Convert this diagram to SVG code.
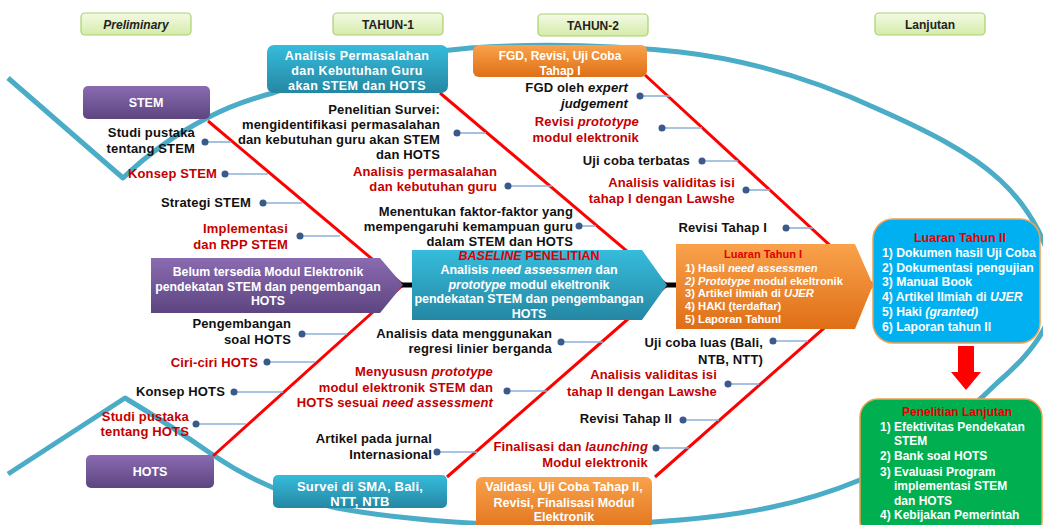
<svg xmlns="http://www.w3.org/2000/svg" width="1043" height="525" viewBox="0 0 1043 525">
<defs>
<linearGradient id="gTeal" x1="0" y1="0" x2="0" y2="1"><stop offset="0" stop-color="#36bcdc"/><stop offset="1" stop-color="#2587a3"/></linearGradient>
<linearGradient id="gOrange" x1="0" y1="0" x2="0" y2="1"><stop offset="0" stop-color="#f9a24c"/><stop offset="1" stop-color="#df6f16"/></linearGradient>
<linearGradient id="gPurple" x1="0" y1="0" x2="0" y2="1"><stop offset="0" stop-color="#8a6bb1"/><stop offset="1" stop-color="#5d4580"/></linearGradient>
<linearGradient id="gHead" x1="0" y1="0" x2="0" y2="1"><stop offset="0" stop-color="#f3fae4"/><stop offset="1" stop-color="#d5eba9"/></linearGradient>
<style>
text{font-family:"Liberation Sans",Arial,sans-serif;font-weight:bold;}
.lb{font-size:13px;letter-spacing:0.15px;text-anchor:end;}
.k{fill:#111;}
.r{fill:#c40000;}
.w{fill:#fff;}
.c{text-anchor:middle;}
.hd{fill:url(#gHead);stroke:#a9d070;stroke-width:1.2;}
.hdt{font-size:12px;fill:#222;text-anchor:middle;}
.dot{fill:#3a5a8c;}
.ld{stroke:#8fb0d8;stroke-width:1.6;fill:none;}
.bone{stroke:#ff0000;stroke-width:3;fill:none;}
.spine{stroke:#000;stroke-width:5;}
.fish{stroke:#4aacc6;stroke-width:5;fill:none;stroke-linejoin:round;}
.tt{fill:#e00000;}
</style>
</defs>
<rect width="1043" height="525" fill="#fff"/>

<g id="headers">
<rect class="hd" x="81" y="13" width="110" height="22" rx="4"/><text class="hdt" x="136" y="28.5" font-style="italic">Preliminary</text>
<rect class="hd" x="333" y="13" width="110" height="22" rx="4"/><text class="hdt" x="388" y="28.5">TAHUN-1</text>
<rect class="hd" x="538" y="14" width="110" height="22" rx="4"/><text class="hdt" x="593" y="29.5">TAHUN-2</text>
<rect class="hd" x="875" y="13" width="110" height="22" rx="4"/><text class="hdt" x="930" y="28.5">Lanjutan</text>
</g>

<g id="connectors">
<path class="fish" d="M8,78 L123,178 C150,152 180,132 207,118 C228,107 250,99 273,93 C330,72 400,54 470,48 C540,43 610,45 680,52 C750,60 820,82 880,110 C925,130 970,152 1000,180 C1030,208 1054,250 1054,290 C1054,325 1030,355 997,383 C960,420 910,455 860,480 C800,505 740,515 680,520 C610,526 540,527 470,523 C420,520 375,515 337,508 C290,498 250,480 213,455 C180,432 150,413 125,398 L8,474"/>
<line class="bone" x1="208" y1="121" x2="403" y2="285"/>
<line class="bone" x1="403" y1="285" x2="213" y2="456"/>
<line class="bone" x1="440" y1="93" x2="667" y2="285"/>
<line class="bone" x1="667" y1="285" x2="447" y2="477"/>
<line class="bone" x1="645" y1="75" x2="873" y2="285"/>
<line class="bone" x1="873" y1="285" x2="655" y2="477"/>
<line class="spine" x1="400" y1="285" x2="414" y2="285"/>
<line class="spine" x1="664" y1="285" x2="678" y2="285"/>
</g>

<g id="stem"><rect x="83" y="86" width="127" height="33" rx="5" fill="url(#gPurple)"/><text class="w c" x="146" y="107" font-size="12.5">STEM</text></g>
<g id="hots"><rect x="86" y="455" width="128" height="33" rx="5" fill="url(#gPurple)"/><text class="w c" x="150" y="476" font-size="12.5">HOTS</text></g>

<g id="analisis-box"><rect x="267" y="45" width="181" height="48" rx="7" fill="url(#gTeal)"/>
<text class="w c" font-size="12.5" letter-spacing="0.4" x="357" y="59.5">Analisis Permasalahan</text>
<text class="w c" font-size="12.5" letter-spacing="0.4" x="357" y="74.5">dan Kebutuhan Guru</text>
<text class="w c" font-size="12.5" letter-spacing="0.4" x="357" y="90">akan STEM  dan HOTS</text></g>

<g id="fgd-box"><rect x="473" y="45" width="174" height="32" rx="6" fill="url(#gOrange)"/>
<text class="w c" font-size="12" x="560" y="60">FGD, Revisi, Uji Coba</text>
<text class="w c" font-size="12" x="560" y="75">Tahap I</text></g>

<g id="survei-box"><rect x="273" y="475" width="174" height="33" rx="5" fill="url(#gTeal)"/>
<text class="w c" font-size="13" letter-spacing="0.2" x="360" y="491">Survei di SMA, Bali,</text>
<text class="w c" font-size="13" letter-spacing="0.2" x="360" y="506">NTT, NTB</text></g>

<g id="validasi-box"><rect x="476" y="477" width="176" height="60" rx="6" fill="url(#gOrange)"/>
<text class="w c" font-size="12.5" x="564" y="491">Validasi, Uji Coba Tahap II,</text>
<text class="w c" font-size="12.5" x="564" y="507">Revisi, Finalisasi Modul</text>
<text class="w c" font-size="12.5" x="564" y="521">Elektronik</text></g>

<g id="problem"><polygon points="151,258 380,258 403,285 380,313 151,313" fill="url(#gPurple)"/>
<text class="w c" font-size="12.3" x="268" y="276">Belum tersedia Modul Elektronik</text>
<text class="w c" font-size="12.3" x="268" y="291">pendekatan STEM dan pengembangan</text>
<text class="w c" font-size="12.3" x="268" y="305">HOTS</text></g>

<g id="baseline"><polygon points="412,250 642,250 667,285 642,320 412,320" fill="url(#gTeal)"/>
<text class="c" font-size="12.5" x="529" y="260" fill="#e00000"><tspan font-style="italic">BASELINE</tspan> PENELITIAN</text>
<text class="w c" font-size="12.5" x="529" y="274">Analisis <tspan font-style="italic">need assessmen</tspan> dan</text>
<text class="w c" font-size="12.5" x="529" y="289"><tspan font-style="italic">prototype</tspan> modul ekeltronik</text>
<text class="w c" font-size="12.5" x="529" y="303">pendekatan STEM dan pengembangan</text>
<text class="w c" font-size="12.5" x="529" y="318">HOTS</text></g>

<g id="luaran1"><polygon points="676,244 855,244 873,285 855,329 676,329" fill="url(#gOrange)"/>
<text class="tt c" font-size="11" x="763" y="258">Luaran Tahun I</text>
<text class="w" font-size="11.2" x="685" y="272">1) Hasil <tspan font-style="italic">need assessmen</tspan></text>
<text class="w" font-size="11.2" x="685" y="285"><tspan font-style="italic">2) Prototype</tspan> modul ekeltronik</text>
<text class="w" font-size="11.2" x="685" y="297">3) Artikel ilmiah di <tspan font-style="italic">UJER</tspan></text>
<text class="w" font-size="11.2" x="685" y="310">4) HAKI (terdaftar)</text>
<text class="w" font-size="11.2" x="685" y="323">5) Laporan TahunI</text></g>

<g id="luaran2"><rect x="873" y="219" width="167" height="124" rx="20" fill="#00b0f0" stroke="#f0a050" stroke-width="1.5"/>
<text class="tt c" font-size="12.5" x="960" y="242">Luaran Tahun II</text>
<text class="w" font-size="12.2" x="882" y="257">1) Dokumen hasil Uji Coba</text>
<text class="w" font-size="12.2" x="882" y="272">2) Dokumentasi pengujian</text>
<text class="w" font-size="12.2" x="882" y="286">3) Manual Book</text>
<text class="w" font-size="12.2" x="882" y="301">4) Artikel Ilmiah di <tspan font-style="italic">UJER</tspan></text>
<text class="w" font-size="12.2" x="882" y="316">5) Haki <tspan font-style="italic">(granted)</tspan></text>
<text class="w" font-size="12.2" x="882" y="331">6) Laporan tahun II</text></g>

<g id="arrow-down"><path d="M958,346 L974,346 L974,372 L981,372 L966,390 L951,372 L958,372 Z" fill="#ff0000"/></g>

<g id="lanjutan"><rect x="860" y="399" width="182" height="140" rx="18" fill="#00b050" stroke="#f0a050" stroke-width="1.5"/>
<text class="tt c" font-size="12" x="957" y="416">Penelitian Lanjutan</text>
<text class="w" font-size="12" x="880" y="431">1) Efektivitas Pendekatan</text>
<text class="w" font-size="12" x="894" y="445">STEM</text>
<text class="w" font-size="12" x="880" y="460">2) Bank soal HOTS</text>
<text class="w" font-size="12" x="880" y="476">3) Evaluasi Program</text>
<text class="w" font-size="12" x="894" y="490">implementasi STEM</text>
<text class="w" font-size="12" x="894" y="505">dan HOTS</text>
<text class="w" font-size="12" x="880" y="519">4) Kebijakan Pemerintah</text></g>

<g id="b1"><line class="ld" x1="205" y1="142" x2="231" y2="142"/><circle class="dot" cx="205" cy="142" r="3.5"/><text class="lb k" x="195" y="137">Studi pustaka</text><text class="lb k" x="195" y="153">tentang STEM</text></g>
<g id="b2"><line class="ld" x1="225" y1="174" x2="268" y2="174"/><circle class="dot" cx="225" cy="174" r="3.5"/><text class="lb r" x="217" y="178">Konsep STEM</text></g>
<g id="b3"><line class="ld" x1="263" y1="203" x2="302" y2="203"/><circle class="dot" cx="263" cy="203" r="3.5"/><text class="lb k" x="251" y="207">Strategi STEM</text></g>
<g id="b4"><line class="ld" x1="300" y1="236" x2="340" y2="236"/><circle class="dot" cx="300" cy="236" r="3.5"/><text class="lb r" x="288" y="233">Implementasi</text><text class="lb r" x="288" y="249">dan RPP STEM</text></g>
<g id="b5"><line class="ld" x1="302" y1="334" x2="347" y2="334"/><circle class="dot" cx="302" cy="334" r="3.5"/><text class="lb k" x="291" y="328">Pengembangan</text><text class="lb k" x="291" y="344">soal HOTS</text></g>
<g id="b6"><line class="ld" x1="267" y1="362" x2="315" y2="362"/><circle class="dot" cx="267" cy="362" r="3.5"/><text class="lb r" x="258" y="367">Ciri-ciri HOTS</text></g>
<g id="b7"><line class="ld" x1="234" y1="392" x2="283" y2="392"/><circle class="dot" cx="234" cy="392" r="3.5"/><text class="lb k" x="225" y="396">Konsep HOTS</text></g>
<g id="b8"><line class="ld" x1="196" y1="424" x2="246" y2="424"/><circle class="dot" cx="196" cy="424" r="3.5"/><text class="lb r" x="189" y="421">Studi pustaka</text><text class="lb r" x="189" y="436">tentang HOTS</text></g>
<g id="b9"><line class="ld" x1="457" y1="133" x2="486" y2="133"/><circle class="dot" cx="457" cy="133" r="3.5"/><text class="lb k" x="440" y="114">Penelitian Survei:</text><text class="lb k" x="440" y="129">mengidentifikasi permasalahan</text><text class="lb k" x="440" y="144">dan kebutuhan guru akan STEM</text><text class="lb k" x="440" y="159">dan HOTS</text></g>
<g id="b10"><line class="ld" x1="508" y1="186" x2="552" y2="186"/><circle class="dot" cx="508" cy="186" r="3.5"/><text class="lb r" x="497" y="176">Analisis permasalahan</text><text class="lb r" x="497" y="191">dan kebutuhan guru</text></g>
<g id="b11"><line class="ld" x1="579" y1="226" x2="596" y2="226"/><circle class="dot" cx="579" cy="226" r="3.5"/><text class="lb k" x="573" y="216">Menentukan faktor-faktor yang</text><text class="lb k" x="573" y="231">mempengaruhi kemampuan guru</text><text class="lb k" x="573" y="246">dalam STEM dan HOTS</text></g>
<g id="b12"><line class="ld" x1="561" y1="342" x2="603" y2="342"/><circle class="dot" cx="561" cy="342" r="3.5"/><text class="lb k" x="552" y="338">Analisis data menggunakan</text><text class="lb k" x="552" y="353">regresi linier berganda</text></g>
<g id="b13"><line class="ld" x1="507" y1="391" x2="547" y2="391"/><circle class="dot" cx="507" cy="391" r="3.5"/><text class="lb r" x="493" y="376">Menyususn <tspan font-style="italic">prototype</tspan></text><text class="lb r" x="493" y="392">modul elektronik STEM dan</text><text class="lb r" x="493" y="407">HOTS sesuai <tspan font-style="italic">need assessment</tspan></text></g>
<g id="b14"><line class="ld" x1="437" y1="452" x2="477" y2="452"/><circle class="dot" cx="437" cy="452" r="3.5"/><text class="lb k" x="432" y="443">Artikel pada jurnal</text><text class="lb k" x="432" y="459">Internasional</text></g>
<g id="b15"><line class="ld" x1="640" y1="96" x2="670" y2="96"/><circle class="dot" cx="640" cy="96" r="3.5"/><text class="lb k" x="628" y="92">FGD oleh <tspan font-style="italic">expert</tspan></text><text class="lb k" x="628" y="108" font-style="italic">judgement</text></g>
<g id="b16"><line class="ld" x1="662" y1="128" x2="702" y2="128"/><circle class="dot" cx="662" cy="128" r="3.5"/><text class="lb r" x="639" y="126">Revisi <tspan font-style="italic">prototype</tspan></text><text class="lb r" x="639" y="142">modul elektronik</text></g>
<g id="b17"><line class="ld" x1="702" y1="161" x2="738" y2="161"/><circle class="dot" cx="702" cy="161" r="3.5"/><text class="lb k" x="690" y="165">Uji coba terbatas</text></g>
<g id="b18"><line class="ld" x1="746" y1="190" x2="770" y2="190"/><circle class="dot" cx="746" cy="190" r="3.5"/><text class="lb r" x="735" y="187">Analisis validitas isi</text><text class="lb r" x="735" y="203">tahap I dengan Lawshe</text></g>
<g id="b19"><line class="ld" x1="786" y1="228" x2="813" y2="228"/><circle class="dot" cx="786" cy="228" r="3.5"/><text class="lb k" x="767" y="232">Revisi Tahap I</text></g>
<g id="b20"><line class="ld" x1="773" y1="341" x2="808" y2="341"/><circle class="dot" cx="773" cy="341" r="3.5"/><text class="lb k" x="763" y="347">Uji coba luas (Bali,</text><text class="lb k" x="763" y="364">NTB, NTT)</text></g>
<g id="b21"><line class="ld" x1="728" y1="384" x2="759" y2="384"/><circle class="dot" cx="728" cy="384" r="3.5"/><text class="lb r" x="717" y="379">Analisis validitas isi</text><text class="lb r" x="717" y="396">tahap II dengan Lawshe</text></g>
<g id="b22"><line class="ld" x1="683" y1="420" x2="719" y2="420"/><circle class="dot" cx="683" cy="420" r="3.5"/><text class="lb k" x="672" y="423">Revisi Tahap II</text></g>
<g id="b23"><line class="ld" x1="656" y1="448" x2="689" y2="448"/><circle class="dot" cx="656" cy="448" r="3.5"/><text class="lb r" x="648" y="451">Finalisasi dan <tspan font-style="italic">launching</tspan></text><text class="lb r" x="648" y="467">Modul elektronik</text></g>
</svg>
